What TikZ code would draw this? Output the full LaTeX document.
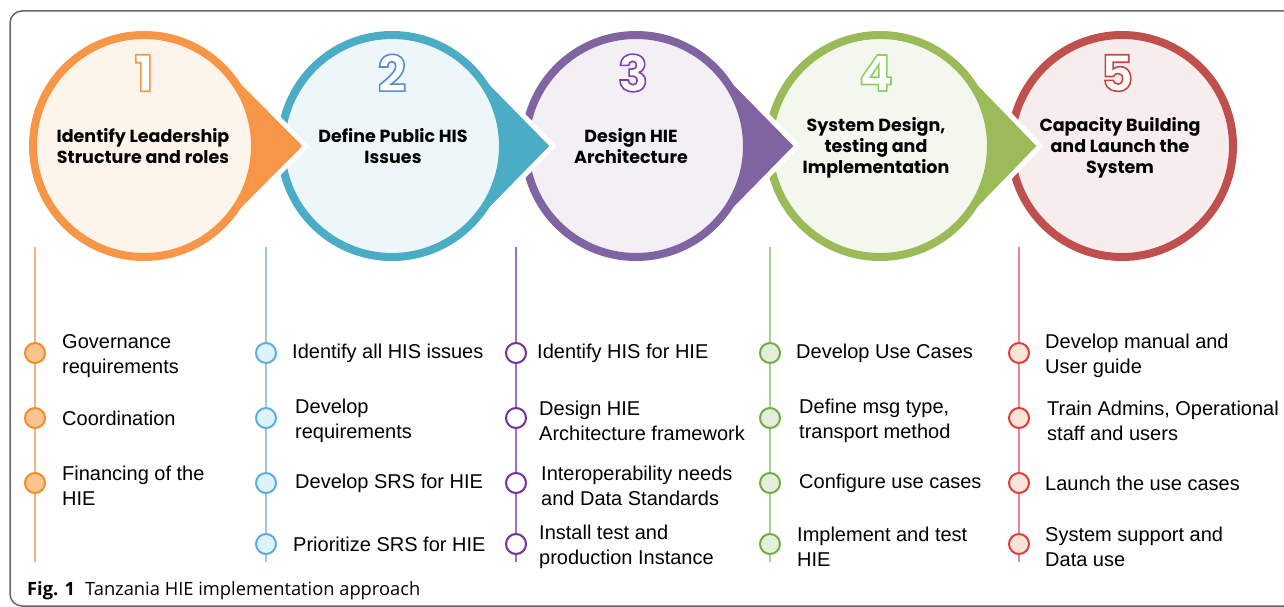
\documentclass[tikz,border=0pt]{standalone}
\usepackage{fontspec}
\setmainfont{Liberation Sans}
\newfontfamily\titlefont{Poppins}
\newfontfamily\capfont{Open Sans}
\usetikzlibrary{calc}

% step colours (ring, light fill)
\definecolor{orangeA}{HTML}{F79646}
\definecolor{orangeL}{HTML}{FDF4EC}
\definecolor{blueA}{HTML}{4BACC6}
\definecolor{blueL}{HTML}{EDF6F9}
\definecolor{purpleA}{HTML}{8064A2}
\definecolor{purpleL}{HTML}{F2EFF5}
\definecolor{greenA}{HTML}{9BBB59}
\definecolor{greenL}{HTML}{F4F7EE}
\definecolor{redA}{HTML}{C0504D}
\definecolor{redL}{HTML}{F8EDED}
% list colours (dot border, dot fill, stem)
\definecolor{orangeD}{HTML}{F28B2C}
\definecolor{orangeF}{HTML}{FBC48E}
\definecolor{orangeS}{HTML}{F4B183}
\definecolor{blueD}{HTML}{5BADE0}
\definecolor{blueF}{HTML}{DDF3FC}
\definecolor{blueS}{HTML}{9DC8EA}
\definecolor{purpleD}{HTML}{7030A0}
\definecolor{purpleS}{HTML}{9C72C8}
\definecolor{greenD}{HTML}{70AD47}
\definecolor{greenF}{HTML}{E2EFDA}
\definecolor{greenS}{HTML}{A9D18E}
\definecolor{redD}{HTML}{DC3E3E}
\definecolor{redF}{HTML}{FCE4D6}
\definecolor{redS}{HTML}{E8898B}

% outlined digit: white fill, stroke in the given rgb
\newcommand\ringdigit[2]{\textcolor{white}{\special{pdf:literal direct 2 Tr 1.6 w #1 RG}#2\special{pdf:literal direct 0 Tr}}}

\tikzset{
    ring/.style={circle, minimum size=222pt, line width=8pt, inner sep=0pt},
    pointer/.style={draw=white, line width=5pt, line join=miter},
    steptitle/.style={font=\titlefont\bfseries\fontsize{17.5}{21}\selectfont, align=center, inner sep=0pt},
    stepnum/.style={font=\titlefont\fontsize{50}{50}\selectfont, inner sep=0pt},
    listdot/.style={circle, minimum size=20pt, line width=2pt, inner sep=0pt},
    item/.style={anchor=west, align=left, inner sep=0pt, font=\fontsize{20}{25}\selectfont},
    stem/.style={line width=1.2pt}
}

\begin{document}
\begin{tikzpicture}[x=1pt, y=-1pt]
    \useasboundingbox (0,0) rectangle (1284,607);
    \draw[gray!80!black, line width=1.5pt, rounded corners=12pt] (1300,11) -- (10,11) -- (10,606) -- (1300,606);

    \coordinate (c1) at (144,146);
    \coordinate (c2) at (392,146);
    \coordinate (c3) at (636,146);
    \coordinate (c4) at (880,146);
    \coordinate (c5) at (1122,146);
    \coordinate (tip1) at (306,146);
    \coordinate (tip2) at (553,146);
    \coordinate (tip3) at (797,146);
    \coordinate (tip4) at (1040,146);

    % drawn from right to left, each pointer lies over the next ring
    \node[ring, draw=redA, fill=redL] (ring5) at (c5) {};
    \filldraw[pointer, fill=greenA] ($(c4)+(45:115)$) -- (tip4) -- ($(c4)+(-45:115)$) -- cycle;
    \node[ring, draw=greenA, fill=greenL] (ring4) at (c4) {};
    \filldraw[pointer, fill=purpleA] ($(c3)+(45:115)$) -- (tip3) -- ($(c3)+(-45:115)$) -- cycle;
    \node[ring, draw=purpleA, fill=purpleL] (ring3) at (c3) {};
    \filldraw[pointer, fill=blueA] ($(c2)+(45:115)$) -- (tip2) -- ($(c2)+(-45:115)$) -- cycle;
    \node[ring, draw=blueA, fill=blueL] (ring2) at (c2) {};
    \filldraw[pointer, fill=orangeA] ($(c1)+(45:115)$) -- (tip1) -- ($(c1)+(-45:115)$) -- cycle;
    \node[ring, draw=orangeA, fill=orangeL] (ring1) at (c1) {};

    \node[steptitle] (title1) at (143,146.5) {Identify Leadership\\Structure and roles};
    \node[steptitle] (title2) at (393,146.5) {Define Public HIS\\Issues};
    \node[steptitle] (title3) at (631,146.5) {Design HIE\\Architecture};
    \node[steptitle] (title4) at (876,148) {System Design,\\testing and\\Implementation};
    \node[steptitle] (title5) at (1120,148) {Capacity Building\\and Launch the\\System};

    % stems
    \coordinate (top1) at (35,247);   \coordinate (bot1) at (35,562);
    \coordinate (top2) at (266,247);  \coordinate (bot2) at (266,562);
    \coordinate (top3) at (516,247);  \coordinate (bot3) at (516,562);
    \coordinate (top4) at (770,247);  \coordinate (bot4) at (770,562);
    \coordinate (top5) at (1019,247); \coordinate (bot5) at (1019,562);
    \draw[stem, orangeS] (top1) -- (bot1);
    \draw[stem, blueS] (top2) -- (bot2);
    \draw[stem, purpleS] (top3) -- (bot3);
    \draw[stem, greenS] (top4) -- (bot4);
    \draw[stem, redS] (top5) -- (bot5);

    % column 1
    \node[listdot, draw=orangeD, fill=orangeF] (d11) at (35,353) {};
    \node[listdot, draw=orangeD, fill=orangeF] (d12) at (35,418) {};
    \node[listdot, draw=orangeD, fill=orangeF] (d13) at (35,483) {};
    \node[item] (t11) at (62,356) {Governance\\requirements};
    \node[item] (t12) at (62,418) {Coordination};
    \node[item] (t13) at (62,486) {Financing of the\\HIE};

    % column 2
    \node[listdot, draw=blueD, fill=blueF] (d21) at (266,353) {};
    \node[listdot, draw=blueD, fill=blueF] (d22) at (266,418) {};
    \node[listdot, draw=blueD, fill=blueF] (d23) at (266,483) {};
    \node[listdot, draw=blueD, fill=blueF] (d24) at (266,544) {};
    \node[item] (t21) at (292,353) {Identify all HIS issues};
    \node[item] (t22) at (295,421) {Develop\\requirements};
    \node[item] (t23) at (295,483) {Develop SRS for HIE};
    \node[item] (t24) at (293,544) {Prioritize SRS for HIE};

    % column 3
    \node[listdot, draw=purpleD, fill=white] (d31) at (516,353) {};
    \node[listdot, draw=purpleD, fill=white] (d32) at (516,418) {};
    \node[listdot, draw=purpleD, fill=white] (d33) at (516,483) {};
    \node[listdot, draw=purpleD, fill=white] (d34) at (516,544) {};
    \node[item] (t31) at (537,353) {Identify HIS for HIE};
    \node[item] (t32) at (539,421) {Design HIE\\Architecture framework};
    \node[item] (t33) at (541,486) {Interoperability needs\\and Data Standards};
    \node[item] (t34) at (539,547) {Install test and\\production Instance};

    % column 4
    \node[listdot, draw=greenD, fill=greenF] (d41) at (770,353) {};
    \node[listdot, draw=greenD, fill=greenF] (d42) at (770,418) {};
    \node[listdot, draw=greenD, fill=greenF] (d43) at (770,483) {};
    \node[listdot, draw=greenD, fill=greenF] (d44) at (770,544) {};
    \node[item] (t41) at (796,353) {Develop Use Cases};
    \node[item] (t42) at (799,421) {Define msg type,\\transport method};
    \node[item] (t43) at (799,483) {Configure use cases};
    \node[item] (t44) at (797,547) {Implement and test\\HIE};

    % column 5
    \node[listdot, draw=redD, fill=redF] (d51) at (1019,353) {};
    \node[listdot, draw=redD, fill=redF] (d52) at (1019,418) {};
    \node[listdot, draw=redD, fill=redF] (d53) at (1019,483) {};
    \node[listdot, draw=redD, fill=redF] (d54) at (1019,544) {};
    \node[item] (t51) at (1045,356) {Develop manual and\\User guide};
    \node[item] (t52) at (1047,421) {Train Admins, Operational\\staff and users};
    \node[item] (t53) at (1045,483) {Launch the use cases};
    \node[item] (t54) at (1045,547) {System support and\\Data use};

    \node[anchor=base west, inner sep=0pt, font=\capfont\fontsize{18.3}{18}\selectfont] (caption) at (27,595) {\textbf{Fig. 1}\hspace{10pt}Tanzania HIE implementation approach};

    % step numbers last, they change the text render mode
    \node[stepnum] (num1) at (144,73) {\bfseries\ringdigit{0.97 0.59 0.27}{1}};
    \node[stepnum] (num2) at (392,73) {\bfseries\ringdigit{0.33 0.55 0.85}{2}};
    \node[stepnum] (num3) at (633,73) {\bfseries\ringdigit{0.50 0.25 0.68}{3}};
    \node[stepnum] (num4) at (876,73) {\bfseries\ringdigit{0.57 0.80 0.40}{4}};
    \node[stepnum] (num5) at (1117,73) {\bfseries\ringdigit{0.78 0.28 0.27}{5}};
\end{tikzpicture}
\end{document}
